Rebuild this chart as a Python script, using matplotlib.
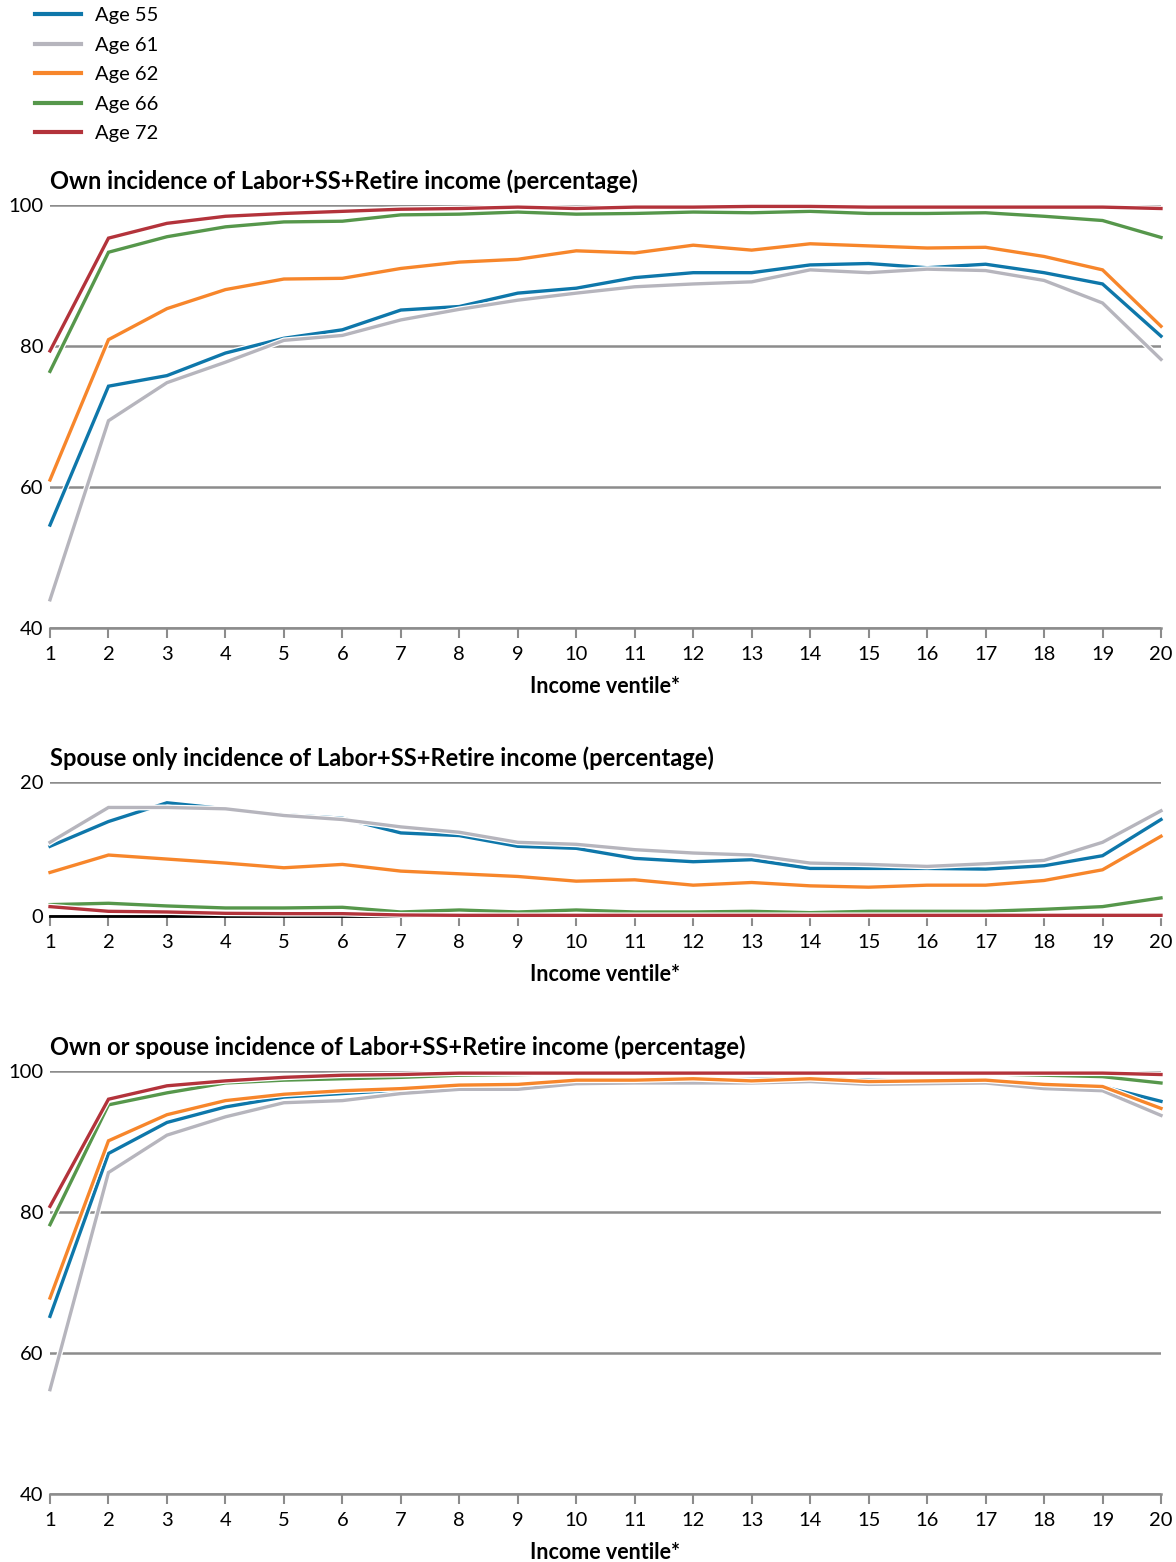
import matplotlib
matplotlib.use("Agg")
import matplotlib.pyplot as plt
import matplotlib.patheffects as pe

# Data
ventiles = list(range(1, 21))
ages = ["Age 55", "Age 61", "Age 62", "Age 66", "Age 72"]
colors = ["#0e77aa", "#b6b5bd", "#f7862b", "#56974b", "#b3333b"]

own_55 = [54.6, 74.3, 75.8, 79.0, 81.1, 82.3, 85.1, 85.6, 87.5, 88.2,
          89.7, 90.4, 90.4, 91.5, 91.7, 91.1, 91.6, 90.4, 88.8, 81.4]
own_61 = [44.0, 69.4, 74.8, 77.7, 80.8, 81.5, 83.7, 85.2, 86.5, 87.5,
          88.4, 88.8, 89.1, 90.8, 90.4, 90.9, 90.7, 89.3, 86.1, 78.1]
own_62 = [61.0, 80.9, 85.3, 88.0, 89.5, 89.6, 91.0, 91.9, 92.3, 93.5,
          93.2, 94.3, 93.6, 94.5, 94.2, 93.9, 94.0, 92.7, 90.8, 82.8]
own_66 = [76.4, 93.3, 95.5, 96.9, 97.6, 97.7, 98.6, 98.7, 99.0, 98.7,
          98.8, 99.0, 98.9, 99.1, 98.8, 98.8, 98.9, 98.4, 97.8, 95.4]
own_72 = [79.3, 95.3, 97.4, 98.4, 98.8, 99.1, 99.4, 99.5, 99.7, 99.5,
          99.7, 99.7, 99.8, 99.8, 99.7, 99.7, 99.7, 99.7, 99.7, 99.5]

spouse_55 = [10.4, 14.1, 16.9, 16.0, 15.1, 14.6, 12.4, 12.0, 10.4, 10.1,
             8.6, 8.1, 8.4, 7.1, 7.1, 7.1, 7.0, 7.5, 9.0, 14.4]
spouse_61 = [11.0, 16.2, 16.2, 16.0, 15.0, 14.4, 13.3, 12.5, 11.0, 10.7,
             9.9, 9.4, 9.1, 7.9, 7.7, 7.4, 7.8, 8.3, 11.0, 15.7]
spouse_62 = [6.5, 9.1, 8.5, 7.9, 7.2, 7.7, 6.7, 6.3, 5.9, 5.2,
             5.4, 4.6, 5.0, 4.5, 4.3, 4.6, 4.6, 5.3, 6.9, 11.9]
spouse_66 = [1.7, 1.9, 1.5, 1.2, 1.2, 1.3, 0.6, 0.9, 0.6, 0.9,
             0.6, 0.6, 0.7, 0.5, 0.7, 0.7, 0.7, 1.0, 1.4, 2.7]
spouse_72 = [1.4, 0.7, 0.6, 0.4, 0.35, 0.35, 0.15, 0.1, 0.1, 0.1,
             0.1, 0.1, 0.1, 0.1, 0.1, 0.1, 0.1, 0.1, 0.1, 0.1]

either_55 = [65.2, 88.3, 92.7, 94.9, 96.3, 96.8, 97.3, 97.8, 97.9, 98.6,
             98.6, 98.7, 98.8, 98.9, 98.7, 98.5, 98.6, 98.0, 97.8, 95.7]
either_61 = [54.8, 85.6, 90.9, 93.5, 95.5, 95.8, 96.8, 97.4, 97.4, 98.2,
             98.3, 98.3, 98.3, 98.5, 98.1, 98.2, 98.3, 97.5, 97.2, 93.7]
either_62 = [67.8, 90.1, 93.8, 95.8, 96.7, 97.2, 97.5, 98.0, 98.1, 98.7,
             98.7, 98.9, 98.6, 98.9, 98.5, 98.6, 98.7, 98.1, 97.8, 94.7]
either_66 = [78.2, 95.2, 96.9, 98.3, 98.7, 98.9, 99.1, 99.4, 99.5, 99.6,
             99.6, 99.6, 99.6, 99.6, 99.6, 99.6, 99.6, 99.4, 99.2, 98.3]
either_72 = [80.8, 96.0, 97.9, 98.6, 99.1, 99.4, 99.5, 99.7, 99.7, 99.7,
             99.7, 99.7, 99.7, 99.7, 99.7, 99.7, 99.7, 99.7, 99.7, 99.5]

panels = [
    ("Own incidence of Labor+SS+Retire income (percentage)",
     [own_55, own_61, own_62, own_66, own_72], (40, 100), [40, 60, 80, 100]),
    ("Spouse only incidence of Labor+SS+Retire income (percentage)",
     [spouse_55, spouse_61, spouse_62, spouse_66, spouse_72], (0, 20), [0, 20]),
    ("Own or spouse incidence of Labor+SS+Retire income (percentage)",
     [either_55, either_61, either_62, either_66, either_72], (40, 100), [40, 60, 80, 100]),
]

W, H = 1176, 1562
# (top px, bottom px) of each plot area
boxes = [(205, 628), (782, 916), (1071, 1494)]
left_px, right_px = 50, 1161

plt.rcParams["font.family"] = ["Lato", "DejaVu Sans"]
fig = plt.figure(figsize=(W / 100, H / 100), dpi=100)

grid_col = "#8c8c8c"
halo = [pe.Stroke(linewidth=4.2, foreground="white"), pe.Normal()]

legend_handles = []
for i, (title, series, ylim, yticks) in enumerate(panels):
    top, bot = boxes[i]
    ax = fig.add_axes([left_px / W, 1 - bot / H, (right_px - left_px) / W, (bot - top) / H])
    for j, vals in enumerate(series):
        ln, = ax.plot(ventiles, vals, color=colors[j], lw=2.4, label=ages[j],
                      solid_joinstyle="miter", path_effects=halo, clip_on=False, zorder=3 + j)
        if i == 0:
            legend_handles.append(ln)
    ax.set_xlim(1, 20)
    ax.set_ylim(*ylim)
    ax.set_yticks(yticks)
    ax.set_xticks(ventiles)
    ax.yaxis.grid(True, color=grid_col, lw=1.8)
    ax.set_axisbelow(True)
    for s in ["top", "right", "left"]:
        ax.spines[s].set_visible(False)
    bottom_col = "black" if i == 1 else grid_col
    ax.spines["bottom"].set_color(bottom_col)
    ax.spines["bottom"].set_linewidth(2.0 if i == 1 else 1.8)
    ax.spines["bottom"].set_zorder(2)
    ax.tick_params(axis="x", direction="out", length=7, width=1.5, color=grid_col,
                   labelsize=14.5, pad=6)
    ax.tick_params(axis="y", length=0, labelsize=14.5, pad=5)
    ax.set_xlabel("Income ventile*", fontsize=15.5, fontweight="bold", labelpad=9)
    ax.text(0, 1.0 + 12 / (bot - top), title, transform=ax.transAxes, ha="left", va="bottom",
            fontsize=17, fontweight="bold")

leg = fig.legend(handles=legend_handles, loc="upper left", bbox_to_anchor=(27 / W, 1 + 1 / H),
                 frameon=False, fontsize=14.5, handlelength=2.3, handletextpad=0.7,
                 labelspacing=0.62, borderpad=0.4, borderaxespad=0)
for h in leg.get_lines():
    h.set_path_effects([])
    h.set_linewidth(3)

fig.savefig("out.png", dpi=100)
